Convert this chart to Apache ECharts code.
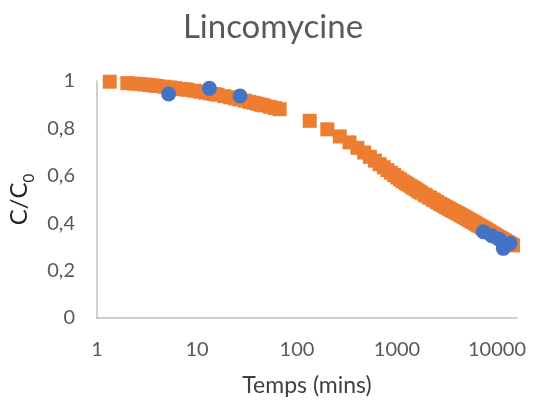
<!DOCTYPE html>
<html>
<head>
<meta charset="utf-8">
<script src="https://cdn.jsdelivr.net/npm/echarts@6/dist/echarts.min.js"></script>
<style>html,body{margin:0;padding:0;background:#fff}#c{width:533px;height:407px}</style>
</head>
<body>
<div id="c"></div>
<script>
// Model curve (orange squares): time (mins), C/C0
var modelTime = [1.34,2.01,2.345,2.68,3.015,3.35,3.685,4.02,4.69,5.36,6.03,6.7,7.37,8.04,9.38,10.72,12.06,13.4,14.74,16.08,18.76,21.44,24.12,26.8,30.15,33.5,36.85,40.2,43.55,46.9,53.6,60.3,67,
  134,201,268,335,402,469,536,603,670,737,804,871,938,1005,1072,1139,1206,1273,1340,1407,1474,1541,1608,1675,1742,1876,1943,2077,2144,2278,2345,2479,2546,2680,2814,2948,3082,3216,3350,3484,3618,3752,3886,4020,4187,4355,4522,4690,4857,5025,5192,5360,5527,5695,5862,6030,6231,6432,6633,6834,7035,7236,7437,7638,7839,8040,8241,8442,8844,9246,9648,10050,10452,10854,11256,11658,12060,12462,12864,13266,13668,14070,14472];
var modelC = [0.997,0.991,0.989,0.987,0.985,0.983,0.981,0.979,0.976,0.973,0.970,0.967,0.965,0.963,0.959,0.955,0.951,0.948,0.945,0.942,0.936,0.931,0.926,0.922,0.917,0.912,0.908,0.904,0.900,0.897,0.891,0.886,0.881,
  0.832,0.796,0.766,0.741,0.718,0.698,0.680,0.664,0.649,0.636,0.624,0.613,0.603,0.593,0.585,0.577,0.571,0.565,0.559,0.553,0.548,0.543,0.538,0.533,0.529,0.521,0.517,0.510,0.507,0.500,0.497,0.491,0.488,0.482,0.478,0.473,0.468,0.464,0.460,0.456,0.452,0.449,0.445,0.442,0.438,0.434,0.430,0.426,0.423,0.419,0.416,0.412,0.409,0.406,0.403,0.400,0.396,0.393,0.390,0.387,0.384,0.380,0.378,0.375,0.372,0.369,0.367,0.364,0.359,0.354,0.350,0.345,0.341,0.337,0.333,0.329,0.325,0.322,0.318,0.315,0.312,0.309,0.306];
// Measured points (blue circles)
var expTime = [5.2,13.3,26.9,7300,8850,10540,11560,13490];
var expC = [0.945,0.969,0.937,0.364,0.347,0.332,0.294,0.315];
// Tick labels
var xTicks = [1,10,100,1000,10000];
var yTickLabels = ['0','0,2','0,4','0,6','0,8','1'];

var modelData = modelTime.map(function(t,i){return [t, modelC[i]];});
var expData = expTime.map(function(t,i){return [t, expC[i]];});

var chart = echarts.init(document.getElementById('c'), null, {renderer:'canvas'});
var FONT = 'Lato';
chart.setOption({
  animation:false,
  backgroundColor:'#ffffff',
  graphic:[{type:'text', x:273, y:27, style:{text:'Lincomycine', font:'33px Lato', fill:'#595959', textAlign:'center', textVerticalAlign:'middle'}}],
  grid:{left:97,right:16,top:81,bottom:89,containLabel:false,outerBoundsMode:'none'},
  xAxis:{
    type:'log', logBase:10, min:1, max:15849,
    axisLine:{show:true, lineStyle:{color:'#bfbfbf', width:1.5}},
    axisTick:{show:false}, splitLine:{show:false}, minorTick:{show:false},
    axisLabel:{color:'#595959', fontFamily:FONT, fontSize:20, margin:22,
      formatter:function(v){var r=Math.round(v); return xTicks.indexOf(r)>=0 ? String(r) : '';}},
    name:'Temps (mins)', nameLocation:'middle', nameGap:56,
    nameTextStyle:{color:'#404040', fontFamily:FONT, fontSize:23}
  },
  yAxis:{
    type:'value', min:0, max:1, interval:0.2,
    axisLine:{show:true, lineStyle:{color:'#bfbfbf', width:1.5}},
    axisTick:{show:false}, splitLine:{show:false},
    axisLabel:{color:'#595959', fontFamily:FONT, fontSize:20, margin:22,
      formatter:function(v){return yTickLabels[Math.round(v*5)];}},
    name:'{c|C/C}{s|0}', nameLocation:'middle', nameGap:60, nameRotate:90,
    nameTextStyle:{color:'#262626', fontFamily:FONT, fontSize:22,
      rich:{c:{fontSize:24, fontFamily:FONT, color:'#262626', lineHeight:26},
            s:{fontSize:15, fontFamily:FONT, color:'#262626', verticalAlign:'bottom', lineHeight:15, padding:[0,0,-4,0]}}}
  },
  series:[
    {type:'scatter', data:modelData, symbol:'rect', symbolSize:14, itemStyle:{color:'#ED7D31', opacity:1}, z:2},
    {type:'scatter', data:expData, symbol:'circle', symbolSize:15, itemStyle:{color:'#4472C4', opacity:1}, z:3}
  ]
});
</script>
</body>
</html>
